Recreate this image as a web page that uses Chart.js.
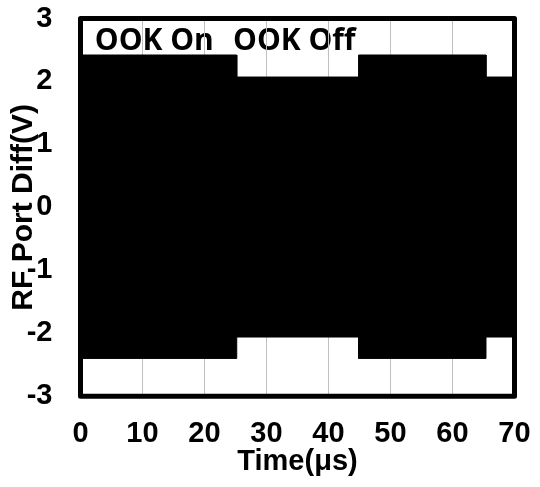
<!DOCTYPE html>
<html>
<head>
<meta charset="utf-8">
<script src="https://cdn.jsdelivr.net/npm/chart.js@4/dist/chart.umd.min.js"></script>
<style>
  html, body { margin: 0; padding: 0; background: #ffffff; }
  #wrap { width: 540px; height: 487px; }
</style>
</head>
<body>
<div id="wrap"><canvas id="c" width="540" height="487"></canvas></div>
<script>
// OOK burst segments of the differential RF port voltage (time in µs)
const segStart = [0, 25.2, 44.85, 65.4];
const segEnd = [25.2, 44.85, 65.4, 70];
const segLabel = ['OOK On', 'OOK Off', 'OOK On', 'OOK Off'];
// carrier peak envelope per segment (V)
const posPeak = [2.42, 2.07, 2.42, 2.07];
const negPeak = [-2.40, -2.06, -2.40, -2.06];
// axis ticks
const xTicks = [0, 10, 20, 30, 40, 50, 60, 70];
const yTicks = [-3, -2, -1, 0, 1, 2, 3];
// state captions placed at (time, volts)
const captionText = ['OOK On', 'OOK Off'];
const captionX = [2.3, 24.6];
const captionY = [2.5, 2.5];

// outline of the envelope as a step trace
function envelope(levels) {
  const pts = [];
  for (let i = 0; i < segStart.length; i++) {
    pts.push({ x: segStart[i], y: levels[i] });
    pts.push({ x: segEnd[i], y: levels[i] });
  }
  return pts;
}

const captions = {
  id: 'captions',
  beforeDraw(chart) {
    const { ctx, scales } = chart;
    ctx.save();
    ctx.font = 'bold 30px "Open Sans"';
    ctx.fillStyle = '#000';
    ctx.textAlign = 'left';
    ctx.textBaseline = 'alphabetic';
    for (let i = 0; i < captionText.length; i++) {
      ctx.fillText(captionText[i], scales.x.getPixelForValue(captionX[i]), scales.y.getPixelForValue(captionY[i]));
    }
    ctx.restore();
  }
};

const frame = {
  id: 'frame',
  afterDatasetsDraw(chart) {
    const { ctx, chartArea: a } = chart;
    ctx.save();
    ctx.strokeStyle = '#000';
    ctx.lineWidth = 5;
    ctx.lineJoin = 'round';
    ctx.strokeRect(a.left, a.top, a.right - a.left, a.bottom - a.top);
    ctx.restore();
  }
};

function noEdgePadding(s) {
  s.paddingTop = 0; s.paddingBottom = 0; s.paddingLeft = 0; s.paddingRight = 0;
}

const family = '"Liberation Sans", Arial, sans-serif';
const tickFont = { family, size: 29, weight: 'bold' };
const xTitleFont = { family, size: 29, weight: 'bold' };
const yTitleFont = { family, size: 30, weight: 'bold' };

new Chart(document.getElementById('c'), {
  type: 'line',
  data: {
    datasets: [
      {
        label: 'upper',
        data: envelope(posPeak),
        borderColor: '#000',
        backgroundColor: '#000',
        borderWidth: 1,
        pointRadius: 0,
        fill: '+1'
      },
      {
        label: 'lower',
        data: envelope(negPeak),
        borderColor: '#000',
        backgroundColor: '#000',
        borderWidth: 1,
        pointRadius: 0,
        fill: false
      }
    ]
  },
  options: {
    responsive: false,
    animation: false,
    devicePixelRatio: 1,
    layout: { padding: { top: 18.5, right: 25.5, left: 0, bottom: 0 } },
    plugins: { legend: { display: false }, tooltip: { enabled: false } },
    scales: {
      x: {
        type: 'linear',
        min: 0,
        max: 70,
        afterBuildTicks(s) { s.ticks = xTicks.map(v => ({ value: v })); },
        afterFit(s) { s.height = 90.8; noEdgePadding(s); },
        grid: { display: true, color: '#c0c0c0', lineWidth: 1, drawTicks: false },
        border: { display: false },
        ticks: { font: tickFont, color: '#000', padding: 20, maxRotation: 0 },
        title: { display: true, text: 'Time(μs)', font: xTitleFont, color: '#000', padding: { top: 0, bottom: 8 } }
      },
      y: {
        min: -3,
        max: 3,
        afterBuildTicks(s) { s.ticks = yTicks.map(v => ({ value: v })); },
        afterFit(s) { s.width = 80.5; noEdgePadding(s); },
        grid: { display: false, drawTicks: false },
        border: { display: false },
        ticks: { font: tickFont, color: '#000', padding: 28 },
        title: { display: true, text: 'RF Port Diff(V)', font: yTitleFont, color: '#000', padding: { top: 6, bottom: 0 } }
      }
    }
  },
  plugins: [captions, frame]
});
</script>
</body>
</html>
